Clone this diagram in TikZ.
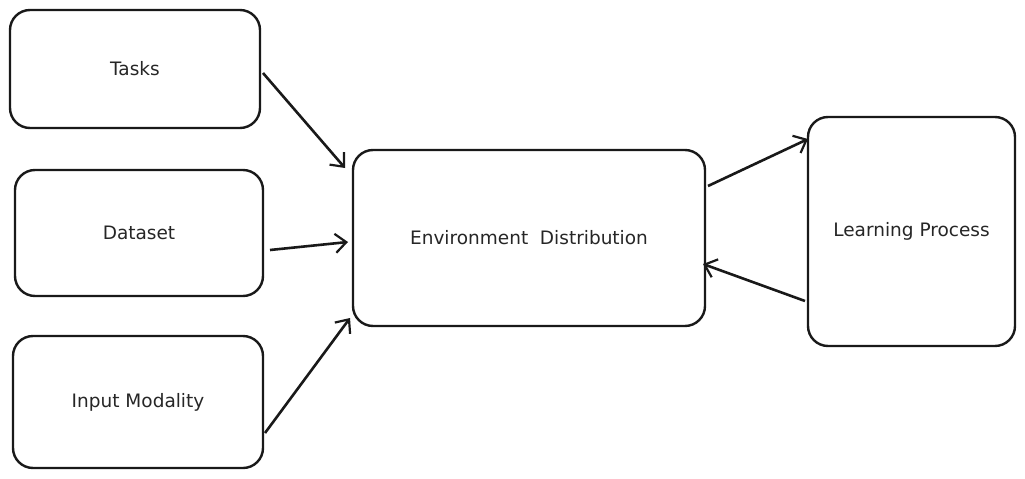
\documentclass[tikz,border=0pt]{standalone}
\usepackage{fontspec}
\setmainfont{DejaVu Sans}
\usetikzlibrary{arrows.meta}
\begin{document}
\begin{tikzpicture}[x=1pt,y=-1pt,
  box/.style={draw=black!90, line width=2.4pt, rounded corners=20pt, inner sep=0pt, font=\fontsize{18.5}{20}\selectfont, text=black!85},
  conn/.style={draw=black!90, line width=2.6pt, -{Straight Barb[length=11pt,width=19pt,line width=2.2pt]}}]
\useasboundingbox (0,0) rectangle (1025,479);
\node[box, minimum width=250pt, minimum height=118pt] (tasks) at (135,69) {Tasks};
\node[box, minimum width=248pt, minimum height=126pt] (data) at (139,233) {Dataset};
\node[box, minimum width=250pt, minimum height=132pt] (input) at (138,402) {Input Modality};
\node[box, minimum width=352pt, minimum height=176pt] (env) at (529,238) {Environment\ \ Distribution};
\node[box, minimum width=207pt, minimum height=229pt] (learn) at (911.5,231.5) {Learning Process};
\coordinate (a1) at (263,73); \coordinate (b1) at (345,168);
\coordinate (a2) at (270,250); \coordinate (b2) at (348,242);
\coordinate (a3) at (265,433); \coordinate (b3) at (350,318);
\coordinate (a4) at (708,186); \coordinate (b4) at (808,139);
\coordinate (a5) at (805,301); \coordinate (b5) at (703,264);
\draw[conn] (a1) -- (b1);
\draw[conn] (a2) -- (b2);
\draw[conn] (a3) -- (b3);
\draw[conn] (a4) -- (b4);
\draw[conn] (a5) -- (b5);
\end{tikzpicture}
\end{document}
